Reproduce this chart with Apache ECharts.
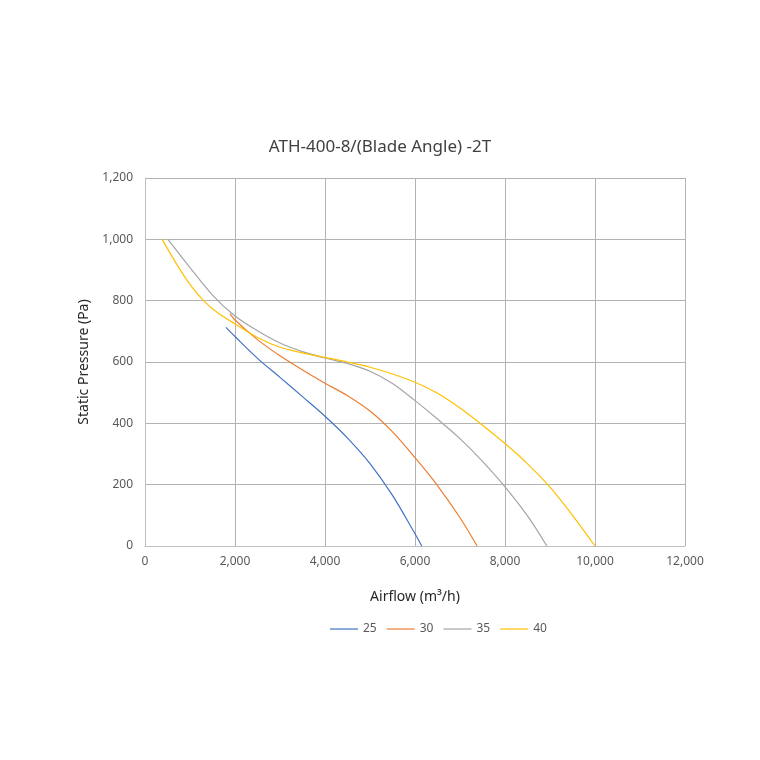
<!DOCTYPE html>
<html>
<head>
<meta charset="utf-8">
<script src="https://cdn.jsdelivr.net/npm/echarts@6/dist/echarts.min.js"></script>
<style>
html,body{margin:0;padding:0;background:#fff;}
#chart{width:760px;height:760px;}
</style>
</head>
<body>
<div id="chart"></div>
<script>
// 叶片角度
var angles = ['25', '30', '35', '40'];
// 风量 / 静压 数据点 [m3/h, Pa]
var curve25 = [[1800,713],[2000,683],[2500,612],[3000,550],[3500,487],[4000,423],[4500,352],[5000,269],[5500,165],[6000,40],[6150,0]];
var curve30 = [[1890,757],[2000,737],[2500,673],[3000,620],[3500,574],[4000,531],[4500,490],[5000,440],[5500,372],[6000,288],[6500,197],[7000,92],[7380,0]];
var curve35 = [[510,1000],[1000,908],[1500,818],[2000,750],[2500,702],[3000,662],[3500,634],[4000,613],[4500,595],[5000,570],[5500,530],[6000,474],[6500,414],[7000,350],[7500,276],[8000,193],[8500,98],[8930,0]];
var curve40 = [[383,1000],[700,920],[1000,853],[1300,800],[1600,762],[2000,724],[2500,680],[3000,648],[3500,630],[4000,615],[4500,600],[5000,583],[5500,561],[6000,534],[6500,498],[7000,450],[7500,394],[8000,334],[8500,268],[9000,192],[9500,100],[10000,0]];
var colors = ['#4472C4', '#ED7D31', '#A5A5A5', '#FFC000'];

var font = 'Noto Sans';
var chart = echarts.init(document.getElementById('chart'));
function makeSeries(name, data){
	return {
		name: name,
		type: 'line',
		smooth: 0.35,
		showSymbol: false,
		symbol: 'none',
		lineStyle: {width: 1.2},
		data: data
	};
}
var option = {
	backgroundColor: '#fff',
	color: colors,
	animation: false,
	title: {
		text: 'ATH-400-8/(Blade Angle) -2T',
		left: 'center',
		top: 134,
		textStyle: {fontFamily: font, fontSize: 17, fontWeight: 'normal', color: '#404040'}
	},
	legend: {
		data: angles,
		left: 325,
		top: 618,
		icon: 'rect',
		itemWidth: 28,
		itemHeight: 1.2,
		itemGap: 10,
		textStyle: {fontFamily: font, fontSize: 12, color: '#595959'}
	},
	grid: {left: 145, right: 75, top: 178, bottom: 214},
	xAxis: {
		type: 'value',
		min: 0,
		max: 12000,
		interval: 2000,
		name: 'Airflow (m³/h)',
		nameLocation: 'middle',
		nameGap: 44,
		nameTextStyle: {fontFamily: font, fontSize: 14, color: '#262626'},
		axisLine: {show: true, lineStyle: {color: '#bfbfbf'}},
		axisTick: {show: false},
		axisLabel: {fontFamily: font, fontSize: 12, color: '#595959', margin: 10,
			formatter: function(v){ return v.toLocaleString('en-US'); }},
		splitLine: {show: true, lineStyle: {color: '#b3b3b3'}}
	},
	yAxis: {
		type: 'value',
		min: 0,
		max: 1200,
		interval: 200,
		name: 'Static Pressure (Pa)',
		nameLocation: 'middle',
		nameGap: 52,
		nameTextStyle: {fontFamily: font, fontSize: 14, color: '#262626'},
		axisLine: {show: true, lineStyle: {color: '#bfbfbf'}},
		axisTick: {show: false},
		axisLabel: {fontFamily: font, fontSize: 12, color: '#595959', margin: 12,
			formatter: function(v){ return v.toLocaleString('en-US'); }},
		splitLine: {show: true, lineStyle: {color: '#b3b3b3'}}
	},
	series: [
		makeSeries(angles[0], curve25),
		makeSeries(angles[1], curve30),
		makeSeries(angles[2], curve35),
		makeSeries(angles[3], curve40)
	]
};
chart.setOption(option);
</script>
</body>
</html>
